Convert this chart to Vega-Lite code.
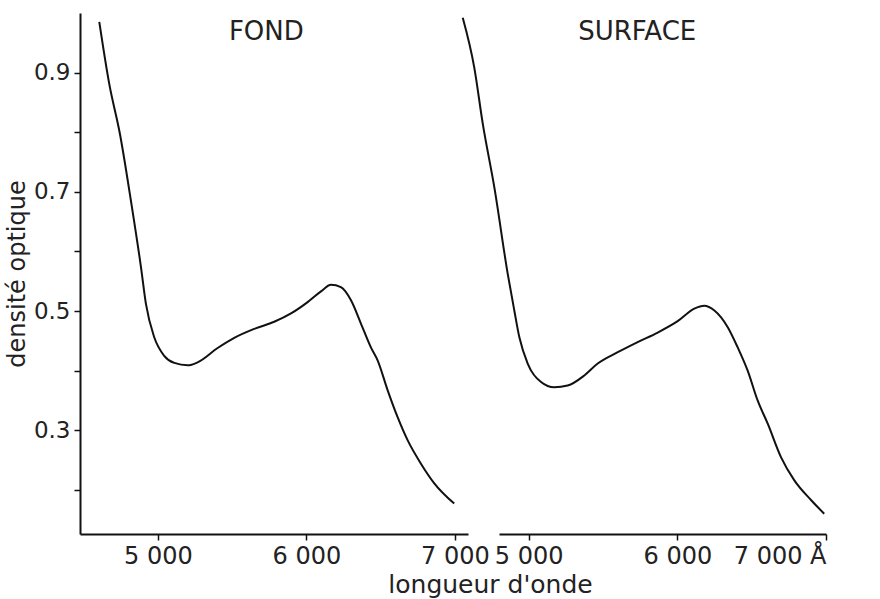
{
  "$schema": "https://vega.github.io/schema/vega-lite/v6.json",
  "background": "white",
  "padding": {"left": 5, "top": 13, "right": 5, "bottom": 5},
  "bounds": "flush",
  "spacing": 31,
  "config": {
    "view": {"stroke": null},
    "font": "DejaVu Sans",
    "axis": {"grid": false, "domainColor": "#111", "domainWidth": 2, "tickColor": "#111", "tickWidth": 1.5, "tickSize": 6, "labelColor": "#222", "titleColor": "#222", "labelFont": "DejaVu Sans", "titleFont": "DejaVu Sans", "titleFontWeight": "normal"}
  },
  "datasets": {
    "fond": [
      {"wl": 4605, "d": 0.985}, {"wl": 4672, "d": 0.881}, {"wl": 4744, "d": 0.797}, {"wl": 4818, "d": 0.685},
      {"wl": 4886, "d": 0.573}, {"wl": 4919, "d": 0.512}, {"wl": 4975, "d": 0.456}, {"wl": 5042, "d": 0.425},
      {"wl": 5110, "d": 0.413}, {"wl": 5200, "d": 0.409}, {"wl": 5267, "d": 0.414}, {"wl": 5402, "d": 0.438},
      {"wl": 5514, "d": 0.455}, {"wl": 5648, "d": 0.470}, {"wl": 5783, "d": 0.482}, {"wl": 5896, "d": 0.496},
      {"wl": 6008, "d": 0.515}, {"wl": 6098, "d": 0.533}, {"wl": 6165, "d": 0.544}, {"wl": 6232, "d": 0.540},
      {"wl": 6300, "d": 0.518}, {"wl": 6367, "d": 0.479}, {"wl": 6434, "d": 0.439}, {"wl": 6480, "d": 0.417},
      {"wl": 6547, "d": 0.367}, {"wl": 6614, "d": 0.322}, {"wl": 6682, "d": 0.283}, {"wl": 6771, "d": 0.244},
      {"wl": 6861, "d": 0.211}, {"wl": 6995, "d": 0.177}
    ],
    "surface": [
      {"wl": 4556, "d": 0.992}, {"wl": 4634, "d": 0.908}, {"wl": 4691, "d": 0.814}, {"wl": 4769, "d": 0.707},
      {"wl": 4859, "d": 0.562}, {"wl": 4903, "d": 0.501}, {"wl": 4937, "d": 0.456}, {"wl": 4993, "d": 0.412},
      {"wl": 5083, "d": 0.381}, {"wl": 5172, "d": 0.372}, {"wl": 5262, "d": 0.375}, {"wl": 5374, "d": 0.392},
      {"wl": 5464, "d": 0.412}, {"wl": 5599, "d": 0.431}, {"wl": 5733, "d": 0.448}, {"wl": 5868, "d": 0.464},
      {"wl": 6002, "d": 0.483}, {"wl": 6114, "d": 0.504}, {"wl": 6181, "d": 0.509}, {"wl": 6249, "d": 0.501},
      {"wl": 6339, "d": 0.473}, {"wl": 6406, "d": 0.439}, {"wl": 6473, "d": 0.400}, {"wl": 6540, "d": 0.350},
      {"wl": 6608, "d": 0.311}, {"wl": 6697, "d": 0.255}, {"wl": 6787, "d": 0.216}, {"wl": 6899, "d": 0.183},
      {"wl": 6988, "d": 0.160}
    ],
    "labels": [
      {"panel": "FOND", "wl": 5730, "d": 0.968},
      {"panel": "SURFACE", "wl": 5730, "d": 0.968}
    ]
  },
  "hconcat": [
    {
      "width": 388,
      "height": 521,
      "layer": [
        {
          "data": {"name": "fond"},
          "mark": {"type": "line", "color": "#111", "strokeWidth": 2, "interpolate": "monotone", "clip": false},
          "encoding": {
            "x": {"field": "wl", "type": "quantitative",
              "scale": {"domain": [4475, 7088], "nice": false, "zero": false},
              "axis": {"values": [5000, 6000, 7000], "labelExpr": "format(datum.value/1000,'d') + ' 000'", "labelFontSize": 24, "labelPadding": 4,
                "title": "longueur d'onde", "titleFontSize": 25, "titleX": 410, "titlePadding": 4}},
            "y": {"field": "d", "type": "quantitative",
              "scale": {"domain": [0.126, 1.0], "nice": false, "zero": false},
              "axis": {"values": [0.2, 0.3, 0.4, 0.5, 0.6, 0.7, 0.8, 0.9], "labelExpr": "round(datum.value*10) % 2 == 1 ? format(datum.value, '.1f') : ''", "labelFontSize": 23, "labelPadding": 4,
                "title": "densité optique", "titleFontSize": 24, "titlePadding": 4}}
          }
        },
        {
          "data": {"name": "labels"},
          "transform": [{"filter": "datum.panel == 'FOND'"}],
          "mark": {"type": "text", "fontSize": 26, "color": "#222", "font": "DejaVu Sans", "baseline": "middle", "align": "center"},
          "encoding": {
            "x": {"field": "wl", "type": "quantitative"},
            "y": {"field": "d", "type": "quantitative"},
            "text": {"field": "panel"}
          }
        }
      ]
    },
    {
      "width": 327,
      "height": 521,
      "layer": [
        {
          "data": {"name": "surface"},
          "mark": {"type": "line", "color": "#111", "strokeWidth": 2, "interpolate": "monotone", "clip": false},
          "encoding": {
            "x": {"field": "wl", "type": "quantitative",
              "scale": {"domain": [4800, 7000], "nice": false, "zero": false},
              "axis": {"values": [5000, 6000, 7000], "labelExpr": "datum.value == 7000 ? '7 000 Å' : format(datum.value/1000,'d') + ' 000'", "labelFontSize": 24, "labelPadding": 4, "labelOverlap": false, "labelBound": false, "title": null}},
            "y": {"field": "d", "type": "quantitative",
              "scale": {"domain": [0.126, 1.0], "nice": false, "zero": false},
              "axis": null}
          }
        },
        {
          "data": {"name": "labels"},
          "transform": [{"filter": "datum.panel == 'SURFACE'"}],
          "mark": {"type": "text", "fontSize": 26, "color": "#222", "font": "DejaVu Sans", "baseline": "middle", "align": "center"},
          "encoding": {
            "x": {"field": "wl", "type": "quantitative"},
            "y": {"field": "d", "type": "quantitative"},
            "text": {"field": "panel"}
          }
        }
      ]
    }
  ]
}
